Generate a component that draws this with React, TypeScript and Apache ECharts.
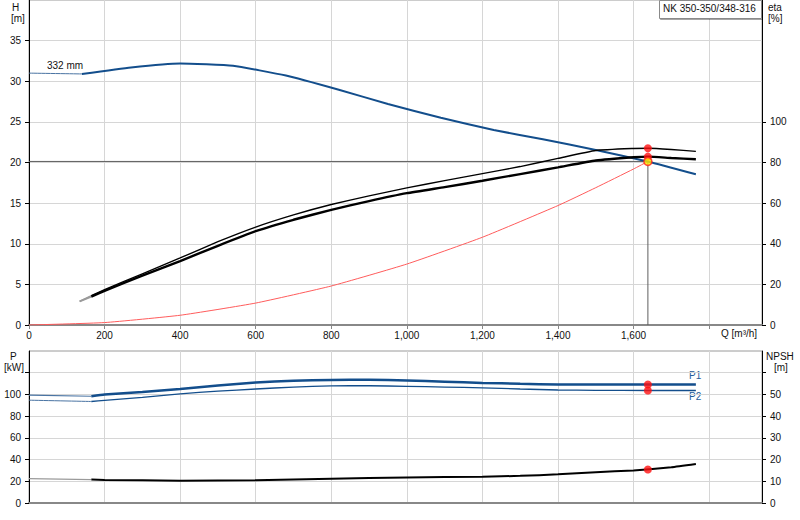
import React, { useEffect, useRef } from 'react'
import * as echarts from 'echarts'

const pumpName = 'NK 350-350/348-316'
const impellerLabel = '332 mm'

// Q [m³/h] against H [m]
const headLow: number[][] = [[0, 31.0], [140, 30.9]]
const head: number[][] = [
  [140, 30.9], [270, 31.7], [400, 32.2], [540, 31.9], [680, 30.7], [820, 28.95],
  [950, 27.2], [1090, 25.5], [1230, 24.0], [1360, 22.85], [1500, 21.55], [1640, 20.1],
  [1765, 18.55],
]

// efficiency [%]
const etaUpperLow: number[][] = [[134, 11.6], [165, 14.4]]
const etaUpper: number[][] = [
  [165, 14.4], [200, 17.4], [300, 25.2], [400, 33.0], [500, 41.0], [600, 48.2],
  [700, 54.2], [800, 59.3], [900, 63.6], [1000, 67.5], [1100, 71.1], [1200, 74.5],
  [1300, 78.0], [1400, 82.0], [1500, 85.9], [1600, 86.9], [1640, 87.0], [1700, 86.4],
  [1765, 85.5],
]
const etaLowerLow: number[][] = [[134, 11.6], [165, 14.0]]
const etaLower: number[][] = [
  [165, 14.0], [200, 16.8], [300, 24.3], [400, 31.5], [500, 39.0], [600, 46.2],
  [700, 51.8], [800, 56.7], [900, 61.0], [1000, 64.9], [1100, 67.9], [1200, 71.0],
  [1300, 74.3], [1400, 77.6], [1500, 81.0], [1600, 82.6], [1640, 82.9], [1700, 82.2],
  [1765, 81.6],
]

// system curve [m]
const systemCurve: number[][] = [
  [0, 0], [200, 0.3], [400, 1.2], [600, 2.7], [800, 4.8], [1000, 7.5],
  [1200, 10.8], [1400, 14.7], [1500, 16.9], [1600, 19.2], [1638, 20.13],
]

const dutyQ = 1638
const dutyH = 20.13
const dutyEta: number[][] = [[1638, 87.0], [1638, 82.9]]

// power [kW]
const p1Low: number[][] = [[0, 99.4], [165, 98.3]]
const p1: number[][] = [
  [165, 98.3], [200, 99.9], [300, 102.3], [400, 105.1], [500, 108.2], [600, 111.0],
  [700, 112.6], [800, 113.4], [900, 113.5], [1000, 112.8], [1100, 111.7], [1200, 110.6],
  [1300, 109.8], [1400, 109.2], [1500, 109.1], [1640, 109.1], [1765, 109.1],
]
const p2Low: number[][] = [[0, 94.7], [165, 93.5]]
const p2: number[][] = [
  [165, 93.5], [200, 94.6], [300, 97.3], [400, 100.6], [500, 103.0], [600, 105.0],
  [700, 106.8], [800, 107.9], [900, 108.0], [1000, 107.5], [1100, 106.8], [1200, 106.0],
  [1300, 105.0], [1400, 104.1], [1500, 103.8], [1640, 103.6], [1765, 103.6],
]
const dutyPower: number[][] = [[1638, 109.1], [1638, 103.6]]

// NPSH [m]
const npshLow: number[][] = [[0, 11.2], [165, 10.8]]
const npsh: number[][] = [
  [165, 10.8], [200, 10.6], [400, 10.3], [600, 10.5], [800, 11.2], [1000, 11.8],
  [1200, 12.1], [1300, 12.5], [1400, 13.2], [1500, 14.2], [1600, 15.0], [1700, 16.5],
  [1765, 18.0],
]
const dutyNpsh: number[][] = [[1638, 15.4]]

const qTicks = [0, 200, 400, 600, 800, 1000, 1200, 1400, 1600, 1800]
const qLabels = [0, 200, 400, 600, 800, 1000, 1200, 1400, 1600]
const hLabels = [0, 5, 10, 15, 20, 25, 30, 35]
const etaLabels = [0, 20, 40, 60, 80, 100]
const pTicks = [0, 20, 40, 60, 80, 100, 120]
const pLabels = [0, 20, 40, 60, 80, 100]
const npshTicks = [0, 10, 20, 30, 40, 50, 60]
const npshLabels = [0, 10, 20, 30, 40, 50]

const FONT = '"Liberation Sans", Arial, sans-serif'
const BLUE = '#134e8c'

const App: React.FC = () => {
  const chartRef = useRef<HTMLDivElement>(null)

  useEffect(() => {
    if (!chartRef.current) return
    document.body.style.margin = '0'
    const chart = echarts.init(chartRef.current, null, { renderer: 'svg' })

    const gridLine = { show: true, lineStyle: { color: '#d6d6d6', width: 1 } }
    const label = (values: number[], fmt?: (v: number) => string) => ({
      show: true,
      customValues: values,
      color: '#111',
      fontSize: 10,
      fontFamily: FONT,
      margin: 8,
      formatter: (v: number) => (values.includes(v) ? (fmt ? fmt(v) : String(v)) : ''),
    })
    const tick = (values: number[], color = '#000') => ({
      show: true,
      customValues: values,
      length: 4,
      lineStyle: { color },
    })
    const line = (data: number[][], color: string, width: number, x = 0, y = 0, z = 3) => ({
      type: 'line',
      xAxisIndex: x,
      yAxisIndex: y,
      data,
      symbol: 'none',
      smooth: 0.15,
      z,
      lineStyle: { color, width },
      silent: true,
    })
    const dots = (data: number[][], x: number, y: number) => ({
      type: 'scatter',
      xAxisIndex: x,
      yAxisIndex: y,
      data,
      symbolSize: 8,
      z: 10,
      itemStyle: { color: '#ff1010', borderColor: '#ff1010', borderWidth: 0 },
    })

    const option: any = {
      animation: false,
      backgroundColor: '#fff',
      textStyle: { fontFamily: FONT },
      grid: [
        { left: 29, right: 38, top: 0, height: 325, show: true, borderColor: '#9a9a9a', borderWidth: 1 },
        { left: 29, right: 38, top: 351, height: 152, show: true, borderColor: '#9a9a9a', borderWidth: 1 },
      ],
      xAxis: [
        {
          type: 'value', gridIndex: 0, min: 0, max: 1940, interval: 200,
          axisLine: { show: true, onZero: false, lineStyle: { color: '#888', width: 2 } },
          axisTick: tick(qTicks, '#888'),
          axisLabel: { ...label(qLabels, v => v.toLocaleString('en-US')), margin: 5 },
          splitLine: gridLine,
        },
        {
          type: 'value', gridIndex: 1, min: 0, max: 1940, interval: 200,
          axisLine: { show: true, onZero: false, lineStyle: { color: '#888', width: 2 } },
          axisTick: { show: false },
          axisLabel: { show: false },
          splitLine: gridLine,
        },
      ],
      yAxis: [
        {
          type: 'value', gridIndex: 0, position: 'left', min: 0, max: 40, interval: 5,
          axisLine: { show: true, onZero: false, lineStyle: { color: '#000' } },
          axisTick: tick(hLabels),
          axisLabel: label(hLabels),
          splitLine: gridLine,
        },
        {
          type: 'value', gridIndex: 0, position: 'right', min: 0, max: 160, interval: 20,
          axisLine: { show: true, onZero: false, lineStyle: { color: '#000' } },
          axisTick: tick(etaLabels),
          axisLabel: label(etaLabels),
          splitLine: { show: false },
        },
        {
          type: 'value', gridIndex: 1, position: 'left', min: 0, max: 140, interval: 20,
          axisLine: { show: true, onZero: false, lineStyle: { color: '#000' } },
          axisTick: tick(pTicks),
          axisLabel: label(pLabels),
          splitLine: gridLine,
        },
        {
          type: 'value', gridIndex: 1, position: 'right', min: 0, max: 70, interval: 10,
          axisLine: { show: true, onZero: false, lineStyle: { color: '#000' } },
          axisTick: tick(npshTicks),
          axisLabel: label(npshLabels),
          splitLine: { show: false },
        },
      ],
      series: [
        // duty point guides
        {
          ...line([[0, dutyH], [dutyQ, dutyH], [dutyQ, 0]], '#5e5e5e', 1, 0, 0, 2),
          smooth: false,
        },
        line(systemCurve, '#ff5c5c', 1),
        line(headLow, '#4a74a3', 1),
        line(head, BLUE, 2),
        line(etaUpperLow, '#9a9a9a', 1.5, 0, 1),
        line(etaUpper, '#000', 1.4, 0, 1),
        line(etaLowerLow, '#9a9a9a', 2, 0, 1),
        line(etaLower, '#000', 2.4, 0, 1),
        dots(dutyEta, 0, 1),
        {
          type: 'scatter', xAxisIndex: 0, yAxisIndex: 0, data: [[dutyQ, dutyH]],
          symbolSize: 8, z: 11,
          itemStyle: { color: '#ffe800', borderColor: '#ff2020', borderWidth: 1.5 },
        },
        // power
        line(p1Low, '#4a74a3', 1.2, 1, 2),
        line(p1, BLUE, 2.5, 1, 2),
        line(p2Low, '#4a74a3', 1, 1, 2),
        line(p2, BLUE, 1.3, 1, 2),
        dots(dutyPower, 1, 2),
        // NPSH
        line(npshLow, '#9a9a9a', 1.2, 1, 3),
        line(npsh, '#000', 2, 1, 3),
        dots(dutyNpsh, 1, 3),
      ],
      graphic: [
        { type: 'text', left: 12, top: 2, style: { text: 'H', fontSize: 10, fontFamily: FONT, fill: '#111' } },
        { type: 'text', left: 11, top: 13, style: { text: '[m]', fontSize: 10, fontFamily: FONT, fill: '#111' } },
        { type: 'text', left: 768, top: 2, style: { text: 'eta', fontSize: 10, fontFamily: FONT, fill: '#111' } },
        { type: 'text', left: 768, top: 13, style: { text: '[%]', fontSize: 10, fontFamily: FONT, fill: '#111' } },
        { type: 'text', left: 721, top: 328, style: { text: 'Q [m³/h]', fontSize: 10, fontFamily: FONT, fill: '#111' } },
        { type: 'text', left: 10, top: 351, style: { text: 'P', fontSize: 10, fontFamily: FONT, fill: '#111' } },
        { type: 'text', left: 4, top: 362, style: { text: '[kW]', fontSize: 10, fontFamily: FONT, fill: '#111' } },
        { type: 'text', left: 766, top: 351, style: { text: 'NPSH', fontSize: 10, fontFamily: FONT, fill: '#111' } },
        { type: 'text', left: 774, top: 362, style: { text: '[m]', fontSize: 10, fontFamily: FONT, fill: '#111' } },
        { type: 'text', left: 689, top: 370, style: { text: 'P1', fontSize: 10, fontFamily: FONT, fill: '#1f5c99' } },
        { type: 'text', left: 689, top: 391, style: { text: 'P2', fontSize: 10, fontFamily: FONT, fill: '#1f5c99' } },
        { type: 'text', left: 47, top: 60, style: { text: impellerLabel, fontSize: 10, fontFamily: FONT, fill: '#111' } },
        {
          type: 'rect', left: 659, top: 0, z: 20,
          shape: { width: 102, height: 18 },
          style: {
            fill: '#fff', stroke: '#8a8a8a', lineWidth: 1,
            shadowColor: 'rgba(0,0,0,0.35)', shadowOffsetX: 1, shadowOffsetY: 1, shadowBlur: 1,
          },
        },
        {
          type: 'text', left: 663, top: 3, z: 21,
          style: { text: pumpName, fontSize: 10, fontFamily: FONT, fill: '#111' },
        },
      ],
    }

    chart.setOption(option)

    return () => {
      chart.dispose()
    }
  }, [])

  return <div ref={chartRef} style={{ width: 800, height: 520 }} />
}

export default App
